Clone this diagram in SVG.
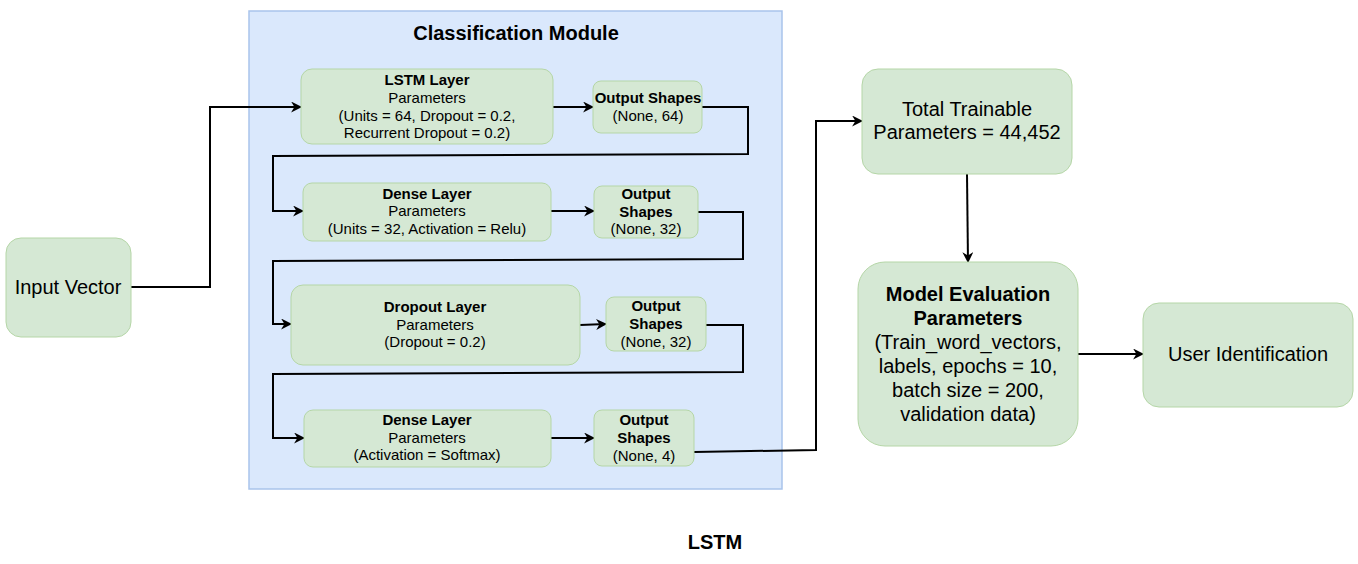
<svg xmlns="http://www.w3.org/2000/svg" width="1358" height="564" viewBox="0 0 1358 564">
  <defs>
    <marker id="arrow" viewBox="0 0 10 10" refX="9" refY="5" markerWidth="5.5" markerHeight="5.5" orient="auto" markerUnits="strokeWidth">
      <path d="M0,0 L10,5 L0,10 L3,5 Z" fill="#000"/>
    </marker>
    <style>
      .node { fill: #d5e8d4; stroke: #b5d6a7; stroke-width: 1; }
      .module { fill: #dae8fc; stroke: #a9c4eb; stroke-width: 1.5; }
      .t { font-family: "Liberation Sans", Arial, sans-serif; fill: #000; text-anchor: middle; }
      .s { font-size: 15px; }
      .l { font-size: 20px; }
      .b { font-weight: bold; }
      .edge { fill: none; stroke: #000; stroke-width: 2; stroke-linejoin: miter; }
      .arr { marker-end: url(#arrow); }
    </style>
  </defs>
  <rect width="1358" height="564" fill="#fff"/>

  <!-- container for the network layers -->
  <g id="classification-module">
    <rect class="module" x="249" y="11" width="533" height="478"/>
    <text class="t l b" x="516" y="40">Classification Module</text>
  </g>

  <g id="connectors">
    <polyline class="edge arr" points="131,287 210,287 210,107 301,107"/>
    <polyline class="edge arr" points="553,107 593,107"/>
    <polyline class="edge arr" points="702,107 748,107 748,154 273,156 273,211 303,211"/>
    <polyline class="edge arr" points="551,211 594,211"/>
    <polyline class="edge arr" points="698,212 743,212 743,259 273,261 273,324 291,324"/>
    <polyline class="edge arr" points="580,325 606,324"/>
    <polyline class="edge arr" points="706,325 743,325 743,372 273,374 273,438 304,438"/>
    <polyline class="edge arr" points="551,438 594,438"/>
    <polyline class="edge arr" points="694,452 816,450 816,121 862,121"/>
    <polyline class="edge arr" points="967,174 968,262"/>
    <polyline class="edge arr" points="1078,354 1143,354"/>
  </g>

  <g id="input-vector">
    <rect class="node" x="6" y="238" width="125" height="99" rx="15"/>
    <text class="t l" x="68" y="294">Input Vector</text>
  </g>

  <g id="lstm-layer">
    <rect class="node" x="301" y="69" width="252" height="75" rx="11"/>
    <text class="t s b" x="427" y="85">LSTM Layer</text>
    <text class="t s" x="427" y="103">Parameters</text>
    <text class="t s" x="427" y="121">(Units = 64, Dropout = 0.2,</text>
    <text class="t s" x="427" y="138">Recurrent Dropout = 0.2)</text>
  </g>

  <g id="lstm-output">
    <rect class="node" x="593" y="81" width="109" height="52" rx="8"/>
    <text class="t s b" x="648" y="103">Output Shapes</text>
    <text class="t s" x="648" y="121">(None, 64)</text>
  </g>

  <g id="dense-layer-1">
    <rect class="node" x="303" y="183" width="248" height="58" rx="9"/>
    <text class="t s b" x="427" y="199">Dense Layer</text>
    <text class="t s" x="427" y="216">Parameters</text>
    <text class="t s" x="427" y="234">(Units = 32, Activation = Relu)</text>
  </g>

  <g id="dense-output-1">
    <rect class="node" x="594" y="186" width="104" height="52" rx="8"/>
    <text class="t s b" x="646" y="199">Output</text>
    <text class="t s b" x="646" y="217">Shapes</text>
    <text class="t s" x="646" y="234">(None, 32)</text>
  </g>

  <g id="dropout-layer">
    <rect class="node" x="291" y="285" width="289" height="80" rx="12"/>
    <text class="t s b" x="435" y="312">Dropout Layer</text>
    <text class="t s" x="435" y="330">Parameters</text>
    <text class="t s" x="435" y="347">(Dropout = 0.2)</text>
  </g>

  <g id="dropout-output">
    <rect class="node" x="606" y="297" width="100" height="54" rx="8"/>
    <text class="t s b" x="656" y="311">Output</text>
    <text class="t s b" x="656" y="329">Shapes</text>
    <text class="t s" x="656" y="347">(None, 32)</text>
  </g>

  <g id="dense-layer-2">
    <rect class="node" x="304" y="410" width="247" height="57" rx="9"/>
    <text class="t s b" x="427" y="425">Dense Layer</text>
    <text class="t s" x="427" y="443">Parameters</text>
    <text class="t s" x="427" y="460">(Activation = Softmax)</text>
  </g>

  <g id="dense-output-2">
    <rect class="node" x="594" y="410" width="100" height="56" rx="8"/>
    <text class="t s b" x="644" y="425">Output</text>
    <text class="t s b" x="644" y="443">Shapes</text>
    <text class="t s" x="644" y="461">(None, 4)</text>
  </g>

  <g id="total-parameters">
    <rect class="node" x="862" y="69" width="210" height="105" rx="16"/>
    <text class="t l" x="967" y="116">Total Trainable</text>
    <text class="t l" x="967" y="139">Parameters = 44,452</text>
  </g>

  <g id="model-evaluation">
    <rect class="node" x="858" y="262" width="220" height="184" rx="27"/>
    <text class="t l b" x="968" y="301">Model Evaluation</text>
    <text class="t l b" x="968" y="325">Parameters</text>
    <text class="t l" x="968" y="349">(Train_word_vectors,</text>
    <text class="t l" x="968" y="373">labels, epochs = 10,</text>
    <text class="t l" x="968" y="397">batch size = 200,</text>
    <text class="t l" x="968" y="421">validation data)</text>
  </g>

  <g id="user-identification">
    <rect class="node" x="1143" y="303" width="210" height="104" rx="16"/>
    <text class="t l" x="1248" y="361">User Identification</text>
  </g>

  <text class="t l b" x="715" y="549">LSTM</text>
</svg>
